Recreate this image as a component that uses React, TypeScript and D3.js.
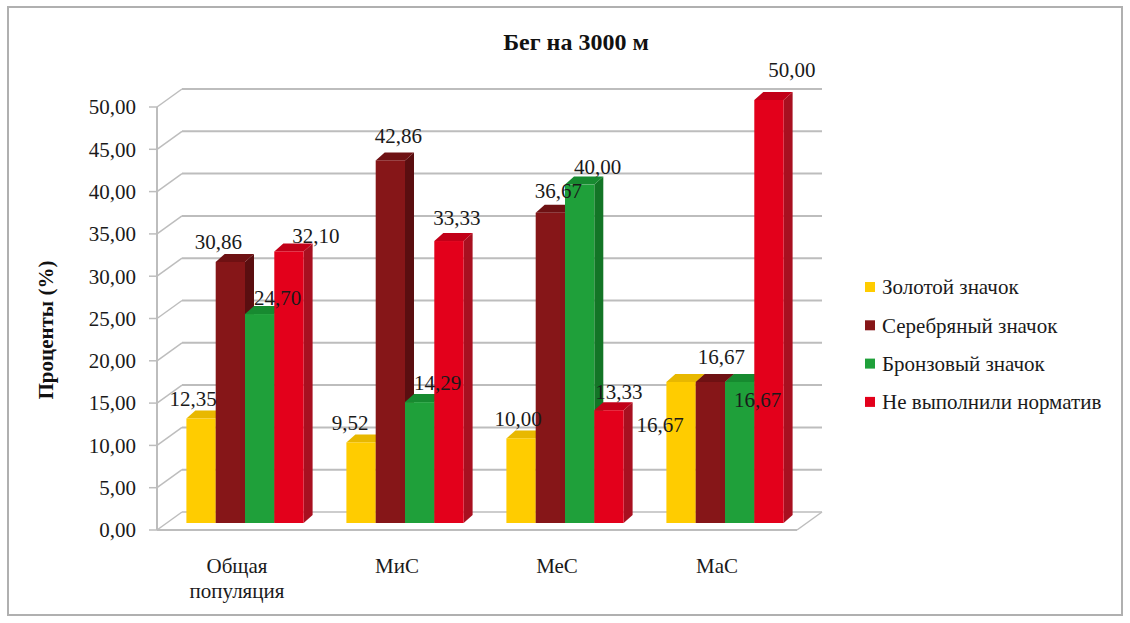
import React from "react";
import * as d3 from "d3";

const title = "Бег на 3000 м";
const yAxisTitle = "Проценты (%)";
const categories = ["Общая популяция", "МиС", "МеС", "МаС"];
const categoryLines = [["Общая", "популяция"], ["МиС"], ["МеС"], ["МаС"]];
const seriesNames = ["Золотой значок", "Серебряный значок", "Бронзовый значок", "Не выполнили норматив"];
const gold = [12.35, 9.52, 10.0, 16.67];
const silver = [30.86, 42.86, 36.67, 16.67];
const bronze = [24.7, 14.29, 40.0, 16.67];
const failed = [32.1, 33.33, 13.33, 50.0];
const seriesValues = [gold, silver, bronze, failed];
const yTicks = [0, 5, 10, 15, 20, 25, 30, 35, 40, 45, 50];

// label nudges (layout only) [series][category] -> [dx, dy]
const labelNudge = [
  [[-8, -20], [-11, -20], [-3, -20], [-21, 43]],
  [[-12, -20], [8, -25], [8, -22], [11, -25]],
  [[18, -16], [18, -19], [18, -18], [18, 18]],
  [[27, -16], [8, -23], [10, -19], [23, -30]],
];

const colors = [
  { front: "#FFCC00", top: "#E8B800", side: "#D6A600" },
  { front: "#861618", top: "#6E1113", side: "#5A0E10" },
  { front: "#1FA03A", top: "#178A30", side: "#137526" },
  { front: "#E3001B", top: "#C20018", side: "#A81020" },
];

const fmt = (v: number) => v.toFixed(2).replace(".", ",");
const FONT = "'Liberation Serif', 'DejaVu Serif', 'Times New Roman', Times, serif";
const ts = (size: number, bold = false): React.CSSProperties => ({ fontFamily: FONT, fontSize: size, fontWeight: bold ? 700 : 400 });

export default function App() {
  const W = 1130, H = 623;
  const left = 157, right = 797, bottom = 530, top = 107;
  const WX = 25, WY = -18; // wall depth
  const BX = 8, BY = -7; // bar position depth
  const DX = 9, DY = -8; // bar own depth

  const y = d3.scaleLinear().domain([0, 50]).range([bottom, top]);
  const x = d3.scaleBand<string>().domain(categories).range([left, right]).paddingInner(0.2675).paddingOuter(0.13375);
  const xs = d3.scaleBand<string>().domain(seriesNames).range([0, x.bandwidth()]);

  const grid = "#BDBDBD";

  const bars: React.ReactNode[] = [];
  const labels: React.ReactNode[] = [];
  categories.forEach((c, ci) => {
    seriesNames.forEach((s, si) => {
      const v = seriesValues[si][ci];
      const x0 = (x(c) as number) + (xs(s) as number) + BX;
      const x1 = x0 + xs.bandwidth();
      const yb = y(0) + BY;
      const yt = y(v) + BY;
      const col = colors[si];
      bars.push(
        <g key={`b${ci}-${si}`}>
          <polygon points={`${x1},${yb} ${x1 + DX},${yb + DY} ${x1 + DX},${yt + DY} ${x1},${yt}`} fill={col.side} />
          <polygon points={`${x0},${yt} ${x0 + DX},${yt + DY} ${x1 + DX},${yt + DY} ${x1},${yt}`} fill={col.top} />
          <rect x={x0} y={yt} width={x1 - x0} height={yb - yt} fill={col.front} />
        </g>
      );
      const [ndx, ndy] = labelNudge[si][ci];
      labels.push(
        <text key={`l${ci}-${si}`} x={(x0 + x1) / 2 + ndx} y={yt + ndy} dy="0.35em" textAnchor="middle" style={ts(21)} fill="#1a1a1a">
          {fmt(v)}
        </text>
      );
    });
  });

  return (
    <svg width={W} height={H} style={{ position: "absolute", left: 0, top: 0 }}>
      <rect x={0} y={0} width={W} height={H} fill="#fff" />
      <rect x={8} y={7} width={1114} height={608} fill="none" stroke="#B0B0B0" strokeWidth={2} />
      <text x={576} y={42} dy="0.35em" textAnchor="middle" style={ts(24, true)} fill="#111">
        {title}
      </text>
      {yTicks.map((t) => (
        <g key={`g${t}`}>
          <line x1={left} y1={y(t)} x2={left + WX} y2={y(t) + WY} stroke={grid} strokeWidth={1.5} />
          {t > 0 && <line x1={left + WX} y1={y(t) + WY} x2={right + WX} y2={y(t) + WY} stroke={grid} strokeWidth={2} />}
          <line x1={left - 8} y1={y(t)} x2={left} y2={y(t)} stroke={grid} strokeWidth={1.5} />
          <text x={136} y={y(t)} dy="0.35em" textAnchor="end" style={ts(21)} fill="#1a1a1a">
            {fmt(t)}
          </text>
        </g>
      ))}
      <line x1={left + WX} y1={y(0) + WY} x2={right + WX} y2={y(0) + WY} stroke={grid} strokeWidth={1.5} />
      <line x1={right} y1={y(0)} x2={right + WX} y2={y(0) + WY} stroke={grid} strokeWidth={1.5} />
      <line x1={left} y1={y(0)} x2={right} y2={y(0)} stroke={grid} strokeWidth={2} />
      <line x1={left} y1={y(0)} x2={left} y2={y(50)} stroke={grid} strokeWidth={2} />
      {bars}
      {labels}
      {categories.map((c, ci) => {
        const cx = (x(c) as number) + x.bandwidth() / 2 + BX;
        return (
          <text key={`c${ci}`} x={cx - 8} y={566} textAnchor="middle" style={ts(21)} fill="#1a1a1a">
            {categoryLines[ci].map((ln, li) => (
              <tspan key={li} x={cx - 8} dy={li === 0 ? "0.35em" : "1.15em"}>
                {ln}
              </tspan>
            ))}
          </text>
        );
      })}
      <text transform={`translate(46,330) rotate(-90)`} textAnchor="middle" dy="0.35em" style={ts(21, true)} fill="#111">
        {yAxisTitle}
      </text>
      {seriesNames.map((s, si) => (
        <g key={`lg${si}`} transform={`translate(865,${287 + si * 38.3})`}>
          <rect x={0} y={-5} width={10} height={10} fill={colors[si].front} />
          <text x={17} y={0} dy="0.35em" style={ts(21)} fill="#1a1a1a">
            {s}
          </text>
        </g>
      ))}
    </svg>
  );
}
